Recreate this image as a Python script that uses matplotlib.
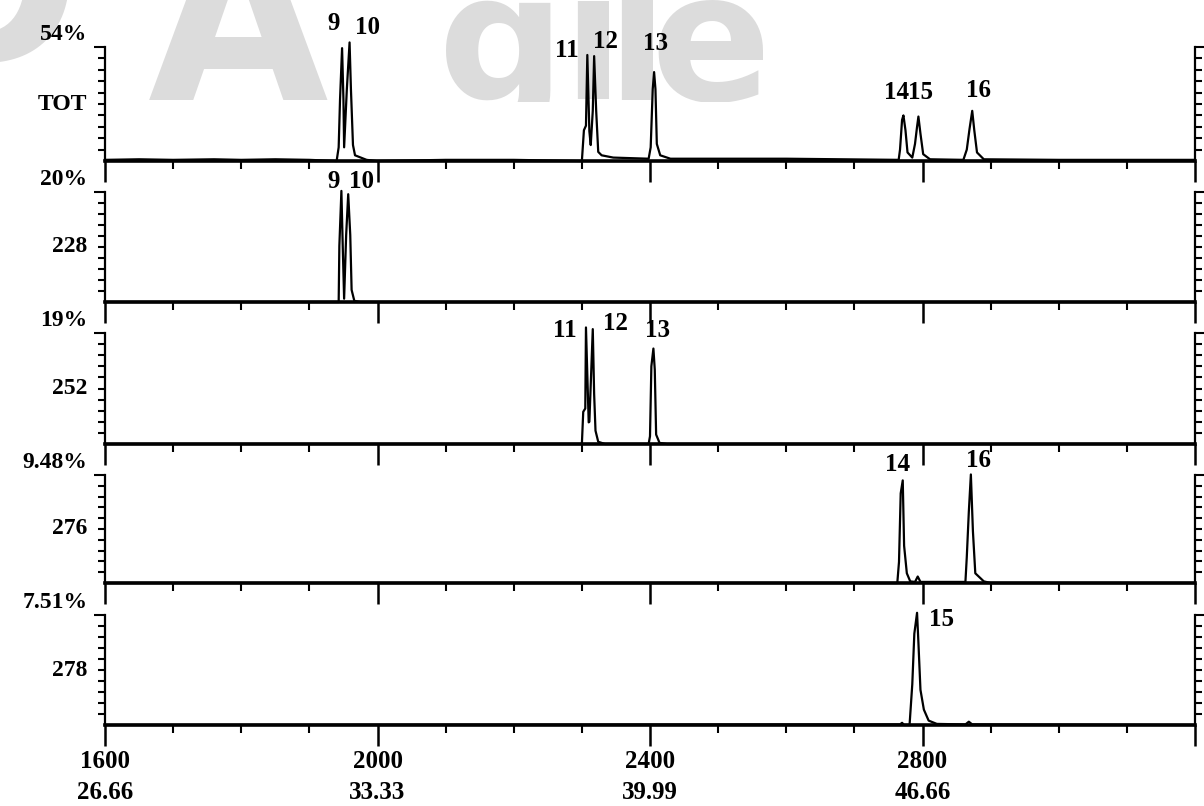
import matplotlib
matplotlib.use("Agg")
import matplotlib.pyplot as plt
from matplotlib.patches import Rectangle
from matplotlib.ticker import FixedLocator, MultipleLocator

plt.rcParams['font.family'] = ['Liberation Serif', 'DejaVu Serif']
plt.rcParams['font.weight'] = 'bold'

# scan number vs intensity (% of each trace's full scale)
tot_x = [1600, 1650, 1700, 1760, 1800, 1850, 1900,
         1940, 1943, 1945, 1948, 1950, 1951, 1955, 1959, 1961, 1964, 1967, 1984, 1999,
         2100, 2200,
         2300, 2303, 2306, 2308, 2311, 2313, 2316, 2318, 2321, 2324, 2329, 2346,
         2398, 2401, 2404, 2406, 2408, 2410, 2415, 2430,
         2600,
         2765, 2767, 2770, 2772, 2775, 2778, 2785, 2789, 2792, 2794, 2797, 2801, 2811,
         2860, 2865, 2869, 2873, 2876, 2880, 2890,
         3000, 3200]
tot_y = [1, 1.5, 1, 1.5, 1, 1.5, 1,
         0, 12, 54, 99, 54, 12, 63, 104, 63, 14, 5, 1, 0,
         1, 1,
         0, 27, 31, 93, 26, 14, 44, 92, 44, 8, 5, 3,
         2, 12, 63, 78, 63, 15, 5, 2,
         2,
         1, 10, 36, 40, 27, 7.5, 3, 15, 30, 39, 24, 6, 1.5,
         1, 10, 28, 44, 27, 7.5, 1.5,
         1, 1]

ch228_x = [1600, 1943, 1944, 1947, 1949, 1951, 1954, 1957, 1960, 1962, 1966, 1975, 3200]
ch228_y = [0, 0, 51, 101, 50, 3, 61, 98, 61, 11, 1, 0, 0]

ch252_x = [1600, 2300, 2302, 2305, 2306, 2310, 2311, 2316, 2318, 2320, 2324, 2334,
           2398, 2400, 2402, 2405, 2407, 2409, 2414, 2425, 3200]
ch252_y = [0, 0, 29, 32, 105, 19.5, 20, 103.5, 45, 12, 2, 0,
           0, 7, 70, 86, 67, 8.5, 1, 0, 0]

ch276_x = [1600, 2763, 2765.5, 2768, 2771, 2773, 2777, 2782, 2789, 2793, 2797,
           2863, 2865, 2868, 2871, 2874, 2877.5, 2890, 2900, 3200]
ch276_y = [0, 0, 19.5, 83, 95, 34.5, 9, 1.5, 1, 6, 1,
           1, 24, 66, 100.5, 48, 9, 1.5, 0, 0]

ch278_x = [1600, 2767, 2770, 2773, 2781, 2785, 2788, 2792, 2794, 2797, 2802, 2809, 2821,
           2863, 2868, 2873, 3200]
ch278_y = [0, 0.5, 2, 0, 0, 37, 83, 102, 75, 32, 14, 4, 1,
           0.5, 3, 0.5, 0]

channels = ["TOT", "228", "252", "276", "278"]
full_scale = ["54%", "20%", "19%", "9.48%", "7.51%"]

# peak numbers: (label, scan, height %)
tot_peaks = [("9", 1935, 121), ("10", 1985, 117), ("11", 2278, 97), ("12", 2334, 105),
             ("13", 2408, 103), ("14", 2762, 60), ("15", 2797, 60), ("16", 2882, 62)]
ch228_peaks = [("9", 1936, 110), ("10", 1977, 110)]
ch252_peaks = [("11", 2275, 102), ("12", 2350, 109), ("13", 2411, 102)]
ch276_peaks = [("14", 2764, 110), ("16", 2882, 113)]
ch278_peaks = [("15", 2828, 96)]

scan_ticks = [1600, 2000, 2400, 2800, 3200]
time_labels = ["26.66", "33.33", "39.99", "46.66", ""]

traces = [(tot_x, tot_y), (ch228_x, ch228_y), (ch252_x, ch252_y),
          (ch276_x, ch276_y), (ch278_x, ch278_y)]
peak_sets = [tot_peaks, ch228_peaks, ch252_peaks, ch276_peaks, ch278_peaks]

W, H = 1204, 806
fig = plt.figure(figsize=(W / 100, H / 100), dpi=100)

# faint watermark behind the top trace, only its lower part is on the page
wm_grey = "#dcdcdc"
band = Rectangle((0, 1 - 102 / H), 1, 102 / H, transform=fig.transFigure)
for ch, x0, base, fs in [("O", -114, 60, 165), ("A", 148, 100, 168), ("g", 438, 100, 128),
                         ("i", 562, 100, 128), ("l", 606, 100, 128), ("e", 650, 100, 128)]:
    t = fig.text(x0 / W, 1 - base / H, ch, fontsize=fs, color=wm_grey,
                 family="DejaVu Sans", fontweight="bold", ha="left", va="baseline",
                 zorder=-1)
    t.set_clip_path(band)

rows = [(47, 161), (192, 302), (333, 444), (475, 583), (615, 725)]
left_px, right_px = 105, 1195

for i, (xs, ys) in enumerate(traces):
    top, bot = rows[i]
    ax = fig.add_axes([left_px / W, 1 - bot / H, (right_px - left_px) / W, (bot - top) / H])
    ax.patch.set_alpha(0)
    ax.plot(xs, ys, color="black", lw=1.6, clip_on=False, zorder=3)
    ax.set_xlim(1600, 3200)
    ax.set_ylim(0, 100)

    ax.spines["top"].set_visible(False)
    for s in ["left", "right"]:
        ax.spines[s].set_linewidth(1.6)
    ax.spines["bottom"].set_linewidth(2.6)

    ax.xaxis.set_major_locator(FixedLocator(scan_ticks))
    ax.xaxis.set_minor_locator(MultipleLocator(100))
    ax.yaxis.set_major_locator(FixedLocator([100]))
    ax.yaxis.set_minor_locator(FixedLocator(list(range(10, 100, 10))))
    ax.tick_params(axis="x", which="major", direction="out", length=15, width=1.8)
    ax.tick_params(axis="x", which="minor", direction="out", length=6, width=1.5)
    ax.tick_params(axis="y", which="both", left=True, right=True,
                   labelleft=False, direction="out", width=1.5)
    ax.tick_params(axis="y", which="major", length=8)
    ax.tick_params(axis="y", which="minor", length=5)

    ax.text(-0.016, 1.02, full_scale[i], transform=ax.transAxes, ha="right",
            va="bottom", fontsize=17)
    ax.text(-0.016, 0.5, channels[i], transform=ax.transAxes, ha="right",
            va="center", fontsize=17)

    for lab, px, py in peak_sets[i]:
        ax.text(px, py, lab, ha="center", va="center", fontsize=18, clip_on=False)

    if i == len(traces) - 1:
        ax.set_xticklabels([f"{s}\n{t}" if t else "" for s, t in zip(scan_ticks, time_labels)],
                           fontsize=18)
        ax.tick_params(axis="x", which="major", pad=3)
        for lbl in ax.get_xticklabels():
            lbl.set_linespacing(1.45)
    else:
        ax.tick_params(axis="x", labelbottom=False)

fig.savefig("out.png", dpi=100)
